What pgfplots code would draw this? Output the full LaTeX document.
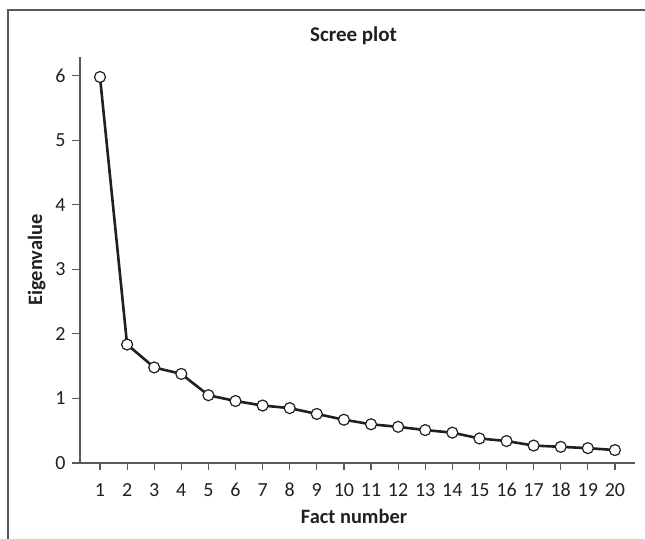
\documentclass[border=0pt]{standalone}
\usepackage{fontspec}
\setmainfont{Carlito}
\usepackage{pgfplots}
\pgfplotsset{compat=1.18}
\definecolor{axgray}{HTML}{58595B}
\definecolor{ink}{HTML}{231F20}
\begin{document}
\begin{tikzpicture}
% 1 px of the reference = 0.5pt
\useasboundingbox (0,0) rectangle (322.5pt,269.5pt);
\draw[axgray, line width=0.6pt] (4pt,0) -- (4pt,264.5pt) -- (322.5pt,264.5pt);
\begin{axis}[
    at={(40pt,38pt)}, anchor=south west,
    scale only axis,
    width=277.5pt, height=203pt,
    xmin=0.262, xmax=20.74,
    ymin=0, ymax=6.29,
    axis lines*=left,
    axis line style={axgray, line width=0.6pt},
    xtick={1,...,20}, ytick={0,...,6},
    tick align=outside,
    major tick length=3.75pt,
    tick style={axgray, line width=0.6pt},
    tick label style={font=\fontsize{10}{12}\selectfont, text=ink},
    xticklabel style={anchor=base, yshift=-13pt},
    /pgf/number format/assume math mode=true,
    clip=false,
]
\addplot[ink, line width=1.3pt, mark=*, mark size=2.75pt,
    mark options={fill=white, draw=ink, line width=0.6pt}]
coordinates {
 (1,5.98) (2,1.835) (3,1.48) (4,1.38) (5,1.05)
 (6,0.96) (7,0.89) (8,0.85) (9,0.76) (10,0.67)
 (11,0.60) (12,0.56) (13,0.51) (14,0.47) (15,0.38)
 (16,0.34) (17,0.27) (18,0.25) (19,0.23) (20,0.20)
};
\end{axis}
\node[font=\fontsize{10.5}{12}\selectfont\bfseries, text=ink] at (176.75pt,251.5pt) {Scree plot};
\node[font=\fontsize{10.2}{12}\selectfont\bfseries, text=ink] at (177pt,11.5pt) {Fact number};
\node[font=\fontsize{10.2}{12}\selectfont\bfseries, text=ink, rotate=90] at (18.35pt,139.5pt) {Eigenvalue};
\end{tikzpicture}
\end{document}
